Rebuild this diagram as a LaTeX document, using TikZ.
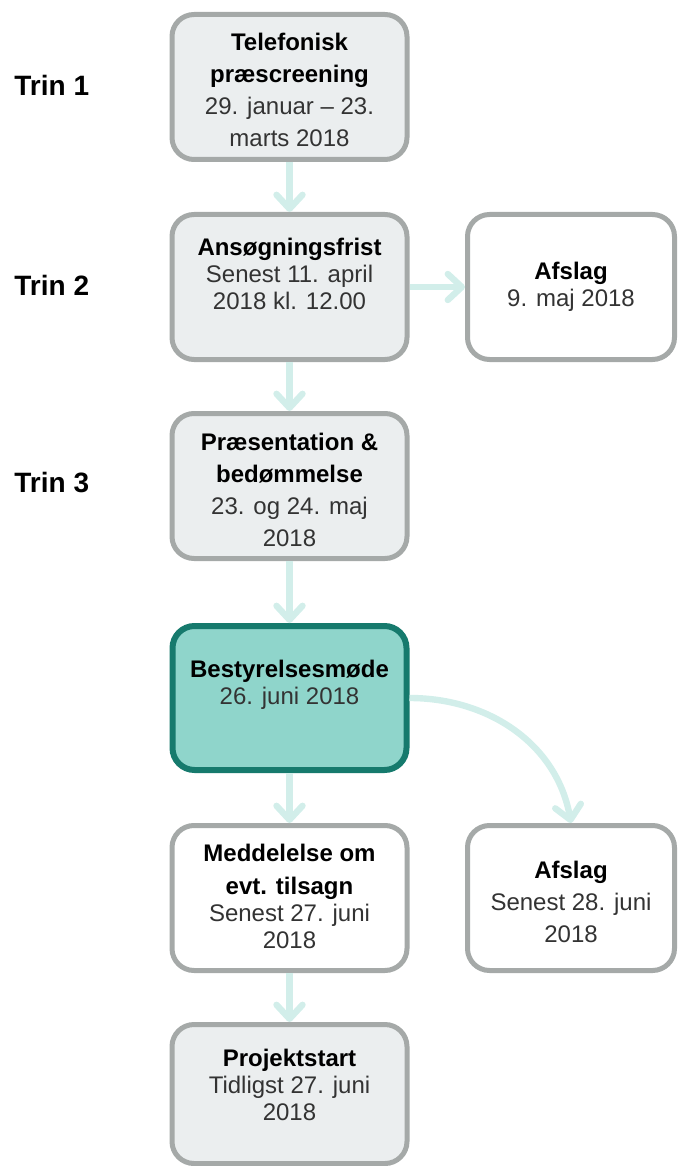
\documentclass[tikz,border=0pt]{standalone}
\usepackage{fontspec}
\setmainfont{Liberation Sans}
\usepackage{xcolor}
\usetikzlibrary{arrows.meta}

\definecolor{boxgrey}{HTML}{EBEEEF}
\definecolor{framegrey}{HTML}{A5A9A8}
\definecolor{boardfill}{HTML}{8FD5CB}
\definecolor{boardframe}{HTML}{167A6D}
\definecolor{flowarrow}{HTML}{D2EEEA}
\definecolor{datetext}{HTML}{333333}

\newcommand{\steptitle}[1]{\textcolor{black}{\bfseries #1}}

\begin{document}
\begin{tikzpicture}[x=0.5pt,y=-0.5pt,
    stepbox/.style={draw=framegrey,fill=boxgrey,line width=2.5pt,rounded corners=11pt,
        minimum width=117.5pt,minimum height=72.5pt,inner sep=0pt},
    whitebox/.style={stepbox,fill=white},
    rejectbox/.style={stepbox,fill=white,minimum width=103.5pt},
    boardbox/.style={stepbox,draw=boardframe,fill=boardfill,line width=3pt,minimum width=117pt,minimum height=72pt},
    txt/.style={align=center,inner sep=0pt,text=datetext,font=\fontsize{12}{13.5}\selectfont},
    txtwide/.style={txt,font=\fontsize{12}{16}\selectfont},
    trin/.style={anchor=west,inner sep=0pt,font=\fontsize{14}{16}\selectfont\bfseries},
    flow/.style={draw=flowarrow,line width=3.2pt,-{Straight Barb[length=7pt,width=13pt,round]}}
    ]
    \useasboundingbox (0,0) rectangle (683,1166);

    %Shape: Boxes
    \node[stepbox] (b1) at (289.5,87) {};
    \node[stepbox] (b2) at (289.5,287) {};
    \node[rejectbox] (a1) at (571,287) {};
    \node[stepbox] (b3) at (289.5,486) {};
    \node[boardbox] (b4) at (289.5,698) {};
    \node[whitebox] (b5) at (289.5,898) {};
    \node[rejectbox] (a2) at (571,898) {};
    \node[stepbox,minimum height=69.5pt] (b6) at (289.5,1094) {};

    %Straight Lines
    \draw[flow] (b1.south) -- (b2.north);
    \draw[flow] (b2.east) -- (a1.west);
    \draw[flow] (b2.south) -- (b3.north);
    \draw[flow] (b3.south) -- (b4.north);
    \draw[flow] (b4.east) to[out=0,in=100] (a2.north);
    \draw[flow] (b4.south) -- (b5.north);
    \draw[flow] (b5.south) -- (b6.north);

    % Text Node
    \node[trin] (trin1) at (14,85) {Trin 1};
    \node[trin] (trin2) at (14,285) {Trin 2};
    \node[trin] (trin3) at (14,483) {Trin 3};
    % Text Node
    \node[txtwide] (t1) at (289.5,90) {\steptitle{Telefonisk}\\\steptitle{præscreening}\\29. januar – 23.\\marts 2018};
    \node[txt] (t2) at (289.5,273.5) {\steptitle{Ansøgningsfrist}\\Senest 11. april\\2018 kl. 12.00};
    \node[txt] (ta1) at (571,286.5) {\steptitle{Afslag}\\9. maj 2018};
    \node[txtwide] (t3) at (289.5,490) {\steptitle{Præsentation \&}\\\steptitle{bedømmelse}\\23. og 24. maj\\2018};
    \node[txt] (t4) at (289.5,685) {\steptitle{Bestyrelsesmøde}\\26. juni 2018};
    \node[txt] (t5) at (289.5,896.5) {\steptitle{Meddelelse om}\\[3pt]\steptitle{evt. tilsagn}\\Senest 27. juni\\2018};
    \node[txtwide] (ta2) at (571,901.5) {\steptitle{Afslag}\\Senest 28. juni\\2018};
    \node[txt] (t6) at (289.5,1085) {\steptitle{Projektstart}\\Tidligst 27. juni\\2018};

\end{tikzpicture}
\end{document}
